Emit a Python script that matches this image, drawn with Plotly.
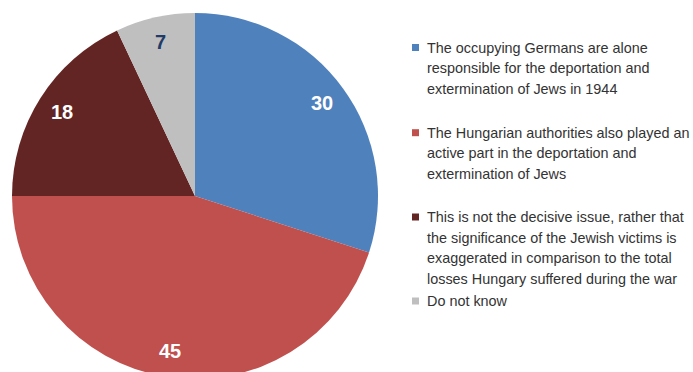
import math
import plotly.graph_objects as go

# Survey answers (percent) and their legend texts
answers = [
    "The occupying Germans are alone responsible for the deportation and extermination of Jews in 1944",
    "The Hungarian authorities also played an active part in the deportation and extermination of Jews",
    "This is not the decisive issue, rather that the significance of the Jewish victims is exaggerated in comparison to the total losses Hungary suffered during the war",
    "Do not know",
]
legend_lines = [
    ["The occupying Germans are alone", "responsible for the deportation and", "extermination of Jews in 1944"],
    ["The Hungarian authorities also played an", "active part in the deportation and", "extermination of Jews"],
    ["This is not the decisive issue, rather that", "the significance of the Jewish victims is",
     "exaggerated in comparison to the total", "losses Hungary suffered during the war"],
    ["Do not know"],
]
shares = [30, 45, 18, 7]
colors = ["#4F81BD", "#C0504D", "#632523", "#BFBFBF"]
label_colors = ["white", "white", "white", "#1F3B66"]

W, H = 693, 386
cx, cy, R = 195, 196, 183

fig = go.Figure(go.Pie(
    labels=answers,
    values=shares,
    sort=False,
    direction="clockwise",
    rotation=0,
    marker=dict(colors=colors, line=dict(width=0)),
    textinfo="none",
    hoverinfo="label+value",
    showlegend=False,
    domain=dict(x=[(cx - R) / W, (cx + R) / W], y=[1 - (cy + R) / H, 1 - (cy - R) / H]),
))

annotations = []
# value labels at the middle angle of each slice
total = sum(shares)
cum = 0
for v, col in zip(shares, label_colors):
    mid = (cum + v / 2) / total * 2 * math.pi
    cum += v
    r = 0.86 * R
    px = cx + r * math.sin(mid)
    py = cy - r * math.cos(mid)
    annotations.append(dict(
        x=px / W, y=1 - py / H, xref="paper", yref="paper",
        text=f"<b>{v}</b>", showarrow=False,
        font=dict(family="Liberation Sans, Arial", size=20, color=col),
        xanchor="center", yanchor="middle",
    ))

# legend drawn as text lines with colour squares
item_tops = [47.5, 132.7, 217, 301]
line_gap = 20.7
shapes = []
for top, lines, col in zip(item_tops, legend_lines, colors):
    shapes.append(dict(
        type="rect", xref="paper", yref="paper",
        x0=412 / W, x1=419 / W, y0=1 - (top + 3.5) / H, y1=1 - (top - 3.5) / H,
        fillcolor=col, line=dict(width=0),
    ))
    for i, t in enumerate(lines):
        annotations.append(dict(
            x=425 / W, y=1 - (top + i * line_gap) / H, xref="paper", yref="paper",
            text=t, showarrow=False, xanchor="left", yanchor="middle",
            font=dict(family="Liberation Sans, Arial", size=14.4, color="#333333"),
        ))

fig.update_layout(
    width=W, height=H,
    margin=dict(l=0, r=0, t=0, b=0),
    paper_bgcolor="white",
    plot_bgcolor="white",
    annotations=annotations,
    shapes=shapes,
)

fig.write_html(
    "out.html",
    post_script="document.body.style.margin='0';document.body.style.overflow='hidden';",
)
